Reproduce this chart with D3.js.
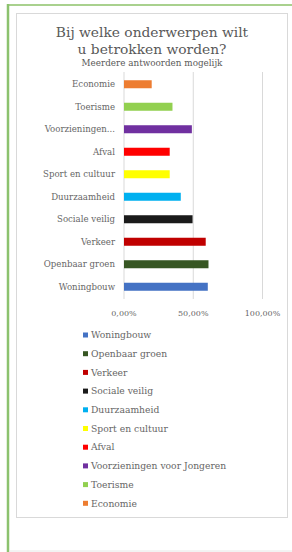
<!DOCTYPE html>
<html>
<head>
<meta charset="utf-8">
<script src="https://cdn.jsdelivr.net/npm/d3@7"></script>
<style>
  body { margin: 0; background: #fff; }
  text { font-family: "DejaVu Serif", serif; }
</style>
</head>
<body>
<div id="chart"></div>
<script>
// legend order (bottom bar first)
var categories = ['Woningbouw', 'Openbaar groen', 'Verkeer', 'Sociale veilig', 'Duurzaamheid',
    'Sport en cultuur', 'Afval', 'Voorzieningen voor Jongeren', 'Toerisme', 'Economie'];
var shortLabels = ['Woningbouw', 'Openbaar groen', 'Verkeer', 'Sociale veilig', 'Duurzaamheid',
    'Sport en cultuur', 'Afval', 'Voorzieningen...', 'Toerisme', 'Economie'];
var values = [0.605, 0.61, 0.59, 0.495, 0.41, 0.33, 0.33, 0.49, 0.35, 0.20];
var colors = ['#4472C4', '#375623', '#C00000', '#1a1a1a', '#00B0F0',
    '#FFFF00', '#FF0000', '#7030A0', '#92D050', '#ED7D31'];
var ticks = [0, 0.5, 1];

var w = 292, h = 552;

var svg = d3.select('#chart')
    .append('svg')
    .attr('width', w)
    .attr('height', h);

// outer frame
svg.append('line').attr('x1', 7).attr('x2', w).attr('y1', 5).attr('y2', 5)
    .attr('stroke', '#a9d18e').attr('stroke-width', 2);
svg.append('line').attr('x1', 8).attr('x2', 8).attr('y1', 4).attr('y2', h)
    .attr('stroke', '#8cc26e').attr('stroke-width', 2.5);
svg.append('line').attr('x1', 9).attr('x2', w).attr('y1', 551).attr('y2', 551)
    .attr('stroke', '#e6e6e6');

// chart box
svg.append('rect').attr('x', 16.5).attr('y', 13.5).attr('width', 271).attr('height', 504)
    .attr('fill', '#fff').attr('stroke', '#d9d9d9');

// title
svg.append('text').attr('x', 152).attr('y', 37).attr('text-anchor', 'middle')
    .attr('font-size', 13.8).attr('fill', '#595959').text('Bij welke onderwerpen wilt');
svg.append('text').attr('x', 152).attr('y', 54).attr('text-anchor', 'middle')
    .attr('font-size', 13.8).attr('fill', '#595959').text('u betrokken worden?');
svg.append('text').attr('x', 152).attr('y', 66).attr('text-anchor', 'middle')
    .attr('font-size', 8.8).attr('fill', '#595959').text('Meerdere antwoorden mogelijk');

var x = d3.scaleLinear().domain([0, 1]).range([124, 262.5]);
var y = d3.scaleBand().domain(categories).range([298, 73])
    .paddingInner(0.644).paddingOuter(0.322);

// gridlines
svg.selectAll('.grid').data(ticks).enter().append('line')
    .attr('x1', (d) => x(d)).attr('x2', (d) => x(d))
    .attr('y1', 72).attr('y2', 299)
    .attr('stroke', '#d9d9d9');

// bars
svg.selectAll('.bar').data(categories).enter().append('rect')
    .attr('x', x(0))
    .attr('y', (d) => y(d))
    .attr('height', y.bandwidth())
    .attr('width', (d, i) => x(values[i]) - x(0))
    .attr('fill', (d, i) => colors[i]);

// category labels
svg.selectAll('.cat').data(categories).enter().append('text')
    .attr('x', 115)
    .attr('y', (d) => y(d) + y.bandwidth() / 2)
    .attr('dy', '0.35em')
    .attr('text-anchor', 'end')
    .attr('font-size', 8.6)
    .attr('fill', '#666')
    .text((d, i) => shortLabels[i]);

// x tick labels
svg.selectAll('.tick').data(ticks).enter().append('text')
    .attr('x', (d) => x(d))
    .attr('y', 313)
    .attr('dy', '0.35em')
    .attr('text-anchor', 'middle')
    .attr('font-size', 8)
    .attr('fill', '#666')
    .text((d) => d3.format('.2f')(d * 100).replace('.', ',') + '%');

// legend
var leg = svg.selectAll('.leg').data(categories).enter().append('g')
    .attr('transform', (d, i) => 'translate(83,' + (335 + i * 18.7) + ')');
leg.append('rect').attr('x', 0).attr('y', -2.5).attr('width', 5).attr('height', 5)
    .attr('fill', (d, i) => colors[i]);
leg.append('text').attr('x', 8).attr('dy', '0.35em')
    .attr('font-size', 9.2).attr('fill', '#666')
    .text((d) => d);
</script>
</body>
</html>
